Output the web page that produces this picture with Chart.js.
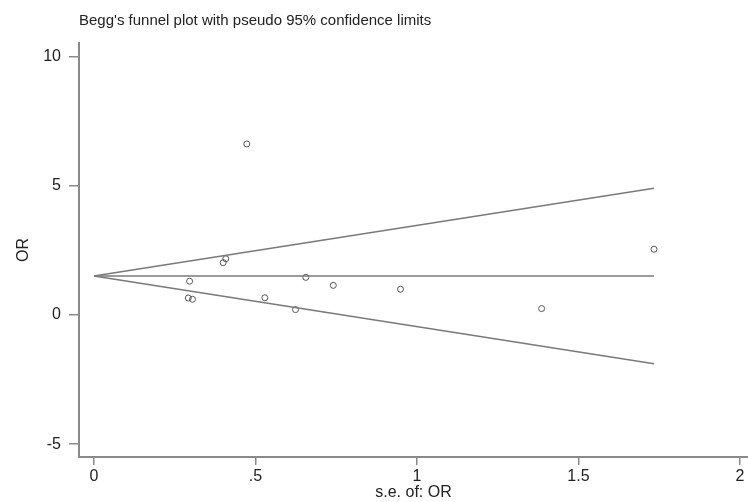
<!DOCTYPE html>
<html>
<head>
<meta charset="utf-8">
<script src="https://cdn.jsdelivr.net/npm/chart.js@4"></script>
<style>
  html, body { margin: 0; padding: 0; background: #fff; }
  canvas { display: block; }
</style>
</head>
<body>
<canvas id="funnelChart" width="748" height="502"></canvas>
<script>
// study points: standard error of OR vs OR
const seValues = [0.473, 0.408, 0.400, 0.296, 0.292, 0.305, 0.529, 0.624, 0.656, 0.741, 0.949, 1.386, 1.734];
const orValues = [6.63, 2.18, 2.03, 1.31, 0.66, 0.61, 0.67, 0.21, 1.46, 1.15, 1.00, 0.25, 2.55];

// pseudo 95% confidence limits and pooled estimate (end points)
const limitSe = [0, 1.734];
const upperLimit = [1.51, 4.91];
const lowerLimit = [1.51, -1.89];
const pooledLine = [1.51, 1.51];

const xTicks = [0, 0.5, 1, 1.5, 2];
const yTicks = [-5, 0, 5, 10];

const fontFamily = '"Liberation Sans", Arial, sans-serif';
const axisGrey = '#8a8a8a';
const lineGrey = '#7a7a7a';

function toPoints(xs, ys) {
    return xs.map(function(x, i) {
        return {x: x, y: ys[i]};
    });
}

function lineSet(ys) {
    return {
        type: 'line',
        data: toPoints(limitSe, ys),
        borderColor: lineGrey,
        borderWidth: 1.6,
        pointRadius: 0,
        fill: false,
        tension: 0
    };
}

const ctx = document.getElementById('funnelChart').getContext('2d');
new Chart(ctx, {
    type: 'scatter',
    data: {
        datasets: [
            lineSet(upperLimit),
            lineSet(lowerLimit),
            lineSet(pooledLine),
            {
                data: toPoints(seValues, orValues),
                pointStyle: 'circle',
                pointRadius: 3,
                backgroundColor: 'rgba(255,255,255,0)',
                borderColor: '#555',
                borderWidth: 1
            }
        ]
    },
    options: {
        responsive: false,
        animation: false,
        devicePixelRatio: 1,
        layout: {autoPadding: false, padding: {left: 0, right: 0, top: 0, bottom: 0}},
        scales: {
            x: {
                type: 'linear',
                min: -0.0464,
                max: 2.025,
                afterFit: function(scale) {
                    scale.height = 45;
                    // the axis line runs to the right edge, no room kept for the last label
                    scale.paddingLeft = 0;
                    scale.paddingRight = 0;
                },
                afterBuildTicks: function(scale) {
                    scale.ticks = xTicks.map(function(v) { return {value: v}; });
                },
                grid: {
                    drawOnChartArea: false,
                    drawTicks: true,
                    tickLength: 8,
                    color: axisGrey,
                    lineWidth: 1.5
                },
                border: {display: true, color: axisGrey, width: 2},
                ticks: {
                    padding: 2,
                    maxRotation: 0,
                    color: '#222',
                    font: {family: fontFamily, size: 16},
                    callback: function(v) { return String(v).replace(/^0\./, '.'); }
                },
                title: {
                    display: true,
                    text: 's.e. of: OR',
                    color: '#222',
                    font: {family: fontFamily, size: 16},
                    padding: {top: 0, bottom: 0}
                }
            },
            y: {
                type: 'linear',
                min: -5.5,
                max: 10.54,
                afterFit: function(scale) { scale.width = 79; },
                afterBuildTicks: function(scale) {
                    scale.ticks = yTicks.map(function(v) { return {value: v}; });
                },
                grid: {
                    drawOnChartArea: false,
                    drawTicks: true,
                    tickLength: 10,
                    color: axisGrey,
                    lineWidth: 1.5
                },
                border: {display: true, color: axisGrey, width: 2},
                ticks: {
                    padding: 8,
                    color: '#222',
                    font: {family: fontFamily, size: 16}
                },
                title: {
                    display: true,
                    text: 'OR',
                    color: '#222',
                    font: {family: fontFamily, size: 16},
                    padding: {top: 14, bottom: 0}
                }
            }
        },
        plugins: {
            legend: {display: false},
            tooltip: {enabled: false},
            title: {
                display: true,
                fullSize: false,
                align: 'start',
                text: "Begg's funnel plot with pseudo 95% confidence limits",
                color: '#222',
                font: {family: fontFamily, size: 15, weight: 'normal'},
                padding: {top: 12, bottom: 13}
            }
        }
    }
});
</script>
</body>
</html>
